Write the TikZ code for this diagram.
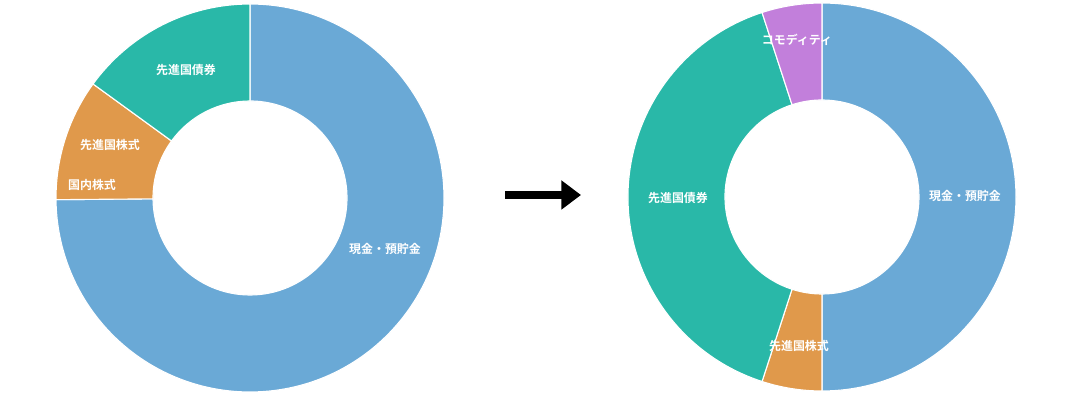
\documentclass[tikz,border=0pt]{standalone}
\usepackage{fontspec}
\newfontfamily\jpfont{Noto Sans CJK JP}[BoldFont={Noto Sans CJK JP Bold}]
\usetikzlibrary{calc,arrows.meta}
\definecolor{cashblue}{HTML}{6AA9D6}
\definecolor{bondteal}{HTML}{29B8A8}
\definecolor{stockorange}{HTML}{E0994B}
\definecolor{homeyellow}{HTML}{E8CC2A}
\definecolor{commpurple}{HTML}{C27FDB}
\newcommand\donutslice[4]{% center, start, end, colour
  \fill[#4, draw=white, line width=0.8pt] ($(#1)+(#2:194)$) arc[start angle=#2, end angle=#3, radius=194]
    -- ($(#1)+(#3:97)$) arc[start angle=#3, end angle=#2, radius=97] -- cycle;}
\begin{document}
\begin{tikzpicture}[x=0.025cm, y=0.025cm,
    slicelabel/.style={text=white, font=\jpfont\bfseries\fontsize{8.5}{10}\selectfont, inner sep=1pt}]
  \useasboundingbox (0,0) rectangle (1080,400);
  \coordinate (before) at (250,202);
  \coordinate (after) at (822,203);

  % Before
  \donutslice{before}{90}{-183}{cashblue}
  \donutslice{before}{177}{180.5}{homeyellow}
  \donutslice{before}{180.5}{144}{stockorange}
  \donutslice{before}{144}{90}{bondteal}
  \node[slicelabel] (bbond) at (186,330) {先進国債券};
  \node[slicelabel] (bstock) at (110,255) {先進国株式};
  \node[slicelabel] (bhome) at (92,215) {国内株式};
  \node[slicelabel] (bcash) at (385,151) {現金・預貯金};

  % After
  \donutslice{after}{90}{-90}{cashblue}
  \donutslice{after}{-90}{-108}{stockorange}
  \donutslice{after}{-108}{-252}{bondteal}
  \donutslice{after}{108}{90}{commpurple}
  \node[slicelabel] (acomm) at (797,360) {コモディティ};
  \node[slicelabel] (abond) at (678,202) {先進国債券};
  \node[slicelabel] (acash) at (965,204) {現金・預貯金};
  \node[slicelabel] (astock) at (799,54) {先進国株式};

  % Arrow
  \coordinate (arrowstart) at (505,205);
  \coordinate (arrowend) at (581,205);
  \draw[line width=5pt, -{Triangle[length=14pt,width=20pt]}] (arrowstart) -- (arrowend);
\end{tikzpicture}
\end{document}
